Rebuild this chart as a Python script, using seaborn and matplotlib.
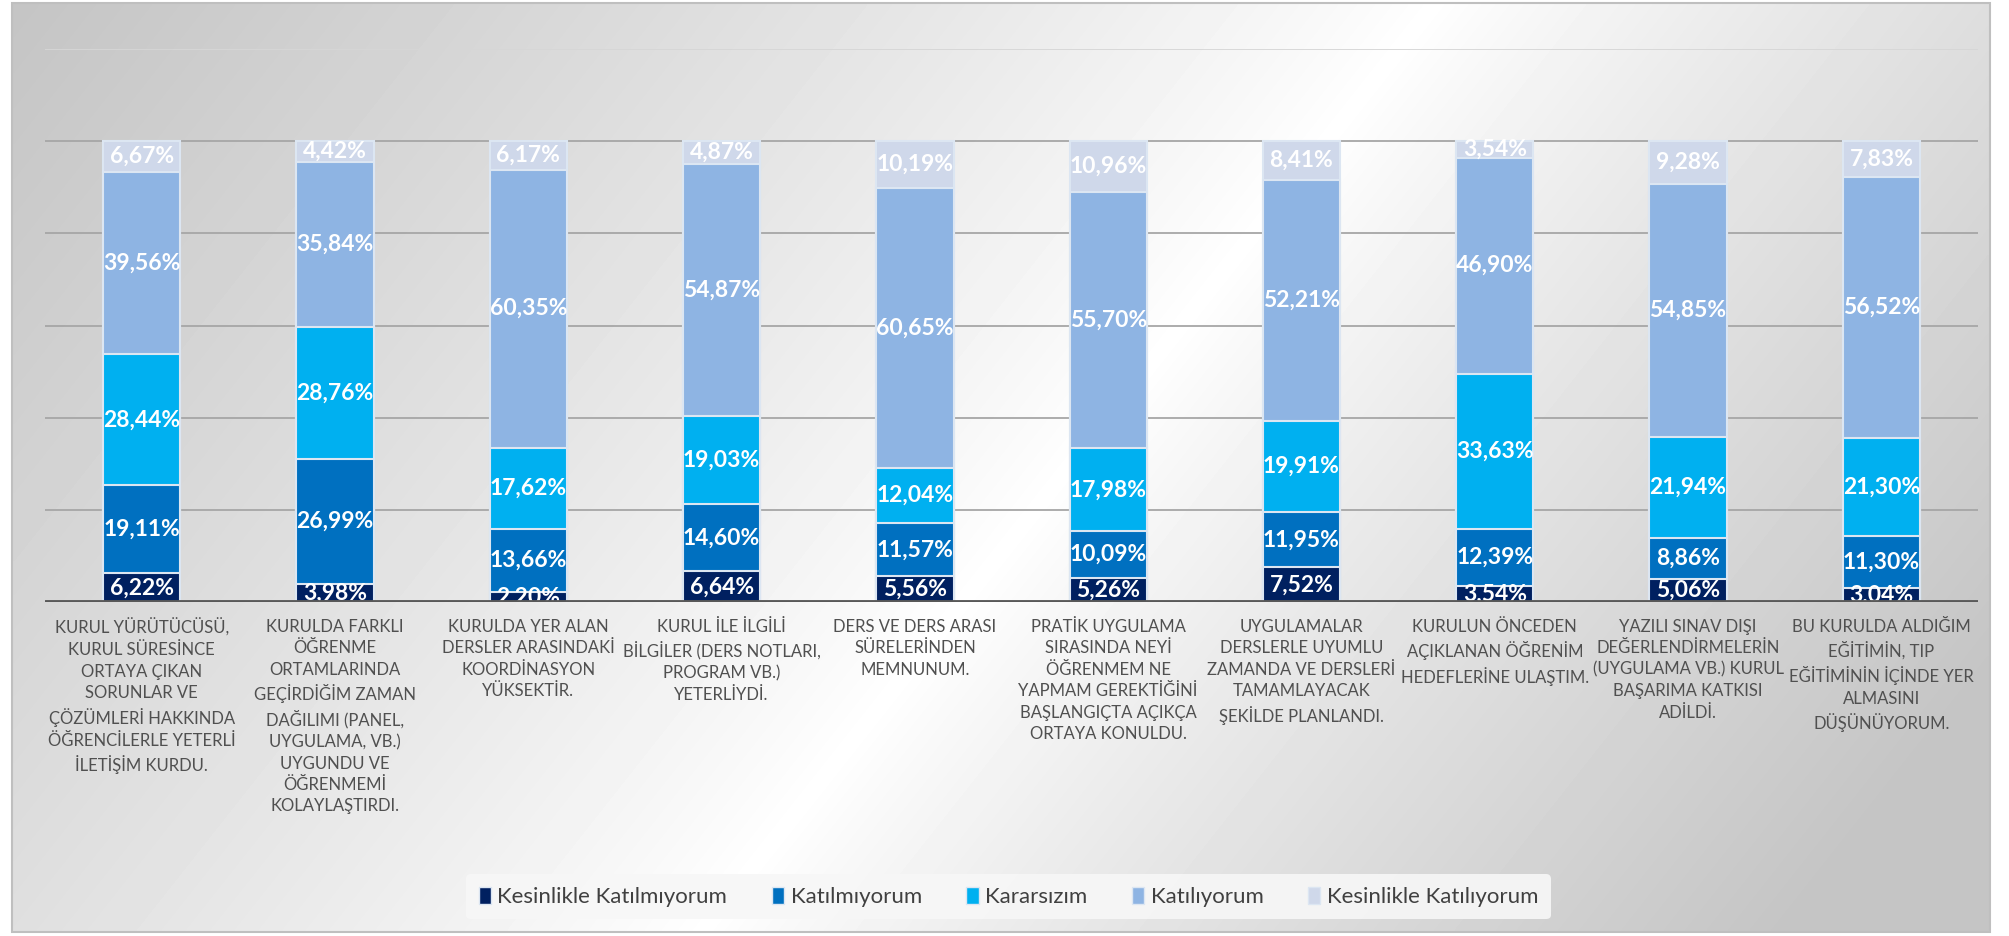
import matplotlib
matplotlib.use('Agg')
import matplotlib.pyplot as plt
from matplotlib.patches import Patch, Rectangle
import seaborn as sns
import pandas as pd
import numpy as np

# ---- data (percentages per statement) ----
categories = [
    "KURUL YÜRÜTÜCÜSÜ,\nKURUL SÜRESİNCE\nORTAYA ÇIKAN\nSORUNLAR VE\nÇÖZÜMLERİ HAKKINDA\nÖĞRENCİLERLE YETERLİ\nİLETİŞİM KURDU.",
    "KURULDA FARKLI\nÖĞRENME\nORTAMLARINDA\nGEÇİRDİĞİM ZAMAN\nDAĞILIMI (PANEL,\nUYGULAMA, VB.)\nUYGUNDU VE\nÖĞRENMEMİ\nKOLAYLAŞTIRDI.",
    "KURULDA YER ALAN\nDERSLER ARASINDAKİ\nKOORDİNASYON\nYÜKSEKTİR.",
    "KURUL İLE İLGİLİ\nBİLGİLER (DERS NOTLARI,\nPROGRAM VB.)\nYETERLİYDİ.",
    "DERS VE DERS ARASI\nSÜRELERİNDEN\nMEMNUNUM.",
    "PRATİK UYGULAMA\nSIRASINDA NEYİ\nÖĞRENMEM NE\nYAPMAM GEREKTİĞİNİ\nBAŞLANGIÇTA AÇIKÇA\nORTAYA KONULDU.",
    "UYGULAMALAR\nDERSLERLE UYUMLU\nZAMANDA VE DERSLERİ\nTAMAMLAYACAK\nŞEKİLDE PLANLANDI.",
    "KURULUN ÖNCEDEN\nAÇIKLANAN ÖĞRENİM\nHEDEFLERİNE ULAŞTIM.",
    "YAZILI SINAV DIŞI\nDEĞERLENDİRMELERİN\n(UYGULAMA VB.) KURUL\nBAŞARIMA KATKISI\nADİLDİ.",
    "BU KURULDA ALDIĞIM\nEĞİTİMİN, TIP\nEĞİTİMİNİN İÇİNDE YER\nALMASINI\nDÜŞÜNÜYORUM.",
]

kesinlikle_katilmiyorum = [6.22, 3.98, 2.20, 6.64, 5.56, 5.26, 7.52, 3.54, 5.06, 3.04]
katilmiyorum = [19.11, 26.99, 13.66, 14.60, 11.57, 10.09, 11.95, 12.39, 8.86, 11.30]
kararsizim = [28.44, 28.76, 17.62, 19.03, 12.04, 17.98, 19.91, 33.63, 21.94, 21.30]
katiliyorum = [39.56, 35.84, 60.35, 54.87, 60.65, 55.70, 52.21, 46.90, 54.85, 56.52]
kesinlikle_katiliyorum = [6.67, 4.42, 6.17, 4.87, 10.19, 10.96, 8.41, 3.54, 9.28, 7.83]

series_names = ['Kesinlikle Katılmıyorum', 'Katılmıyorum', 'Kararsızım',
                'Katılıyorum', 'Kesinlikle Katılıyorum']
series_values = [kesinlikle_katilmiyorum, katilmiyorum, kararsizim,
                 katiliyorum, kesinlikle_katiliyorum]
colors = ['#002060', '#0070C0', '#00B0F0', '#8EB4E3', '#CFD8EA']
edge = '#DCE6F2'

df = pd.DataFrame({'Soru': categories})
for name, vals in zip(series_names, series_values):
    df[name] = vals
cum = df[series_names].cumsum(axis=1)

# ---- style ----
sns.set_theme(style='white')
plt.rcParams['font.family'] = ['Lato', 'DejaVu Sans']

fig = plt.figure(figsize=(20.09, 9.36), dpi=100)
fig.patch.set_facecolor('white')

# gradient background panel
bg = fig.add_axes([0.006, 0.004, 0.9845, 0.9925], zorder=-5)
W, H = 400, 200
xx, yy = np.meshgrid(np.linspace(0, 1, W), np.linspace(0, 1, H))
u = xx + 0.37 * yy
d = np.where(u < 0.72, (0.72 - u) / 0.72, (u - 0.72) / 0.55)
v = 1 - 0.23 * np.clip(d, 0, 1) ** 0.85
bg.imshow(v, cmap='gray', vmin=0, vmax=1, extent=[0, 1, 1, 0], aspect='auto',
          interpolation='bilinear')
bg.set_xlim(0, 1)
bg.set_ylim(1, 0)
bg.axis('off')
bg.add_patch(Rectangle((0, 0), 1, 1, fill=False, edgecolor='#BFBFBF', lw=1.5,
                       transform=bg.transAxes, clip_on=False))

# main chart: stacked bars drawn as overlapping cumulative totals
ax = fig.add_axes([0.0224, 0.3568, 0.9622, 0.5908])
ax.patch.set_alpha(0)

for name, color in reversed(list(zip(series_names, colors))):
    sns.barplot(x=df['Soru'], y=cum[name], color=color, saturation=1,
                width=0.4, edgecolor=edge, linewidth=1.5, errorbar=None, ax=ax)

for name in series_names:
    for i in range(len(categories)):
        val = df[name].iloc[i]
        mid = cum[name].iloc[i] - val / 2
        ax.text(i, mid, f"{val:.2f}".replace('.', ',') + '%', ha='center',
                va='center', color='white', fontweight='bold', fontsize=16.5,
                clip_on=True, zorder=3)

ax.set_ylim(0, 120)
ax.set_xlim(-0.5, len(categories) - 0.5)
ax.set_yticks(np.arange(0, 121, 20))
ax.set_yticklabels([])
ax.set_axisbelow(True)
ax.yaxis.grid(True, color='#A6A6A6', lw=1.3)
ax.get_ygridlines()[-1].set_color('#D6D6D6')
ax.axhline(0, color='#595959', lw=3.5, zorder=4)
for s in ax.spines.values():
    s.set_visible(False)
ax.set_xlabel('')
ax.set_ylabel('')
ax.tick_params(axis='x', length=0, pad=12, labelsize=12, labelcolor='#505050')
ax.tick_params(axis='y', length=0)
for t in ax.get_xticklabels():
    t.set_linespacing(1.42)

handles = [Patch(facecolor=c, edgecolor=edge, lw=1) for c in colors]
leg = fig.legend(handles, series_names, loc='center', bbox_to_anchor=(0.502, 0.042),
                 ncol=5, fontsize=16, frameon=True, handlelength=0.55,
                 handleheight=0.8, handletextpad=0.3, columnspacing=2.0,
                 borderpad=0.55, labelcolor='#404040')
leg.get_frame().set_facecolor('#F7F7F7')
leg.get_frame().set_edgecolor('none')
leg.get_frame().set_alpha(0.9)

fig.savefig('out.png', dpi=100)
